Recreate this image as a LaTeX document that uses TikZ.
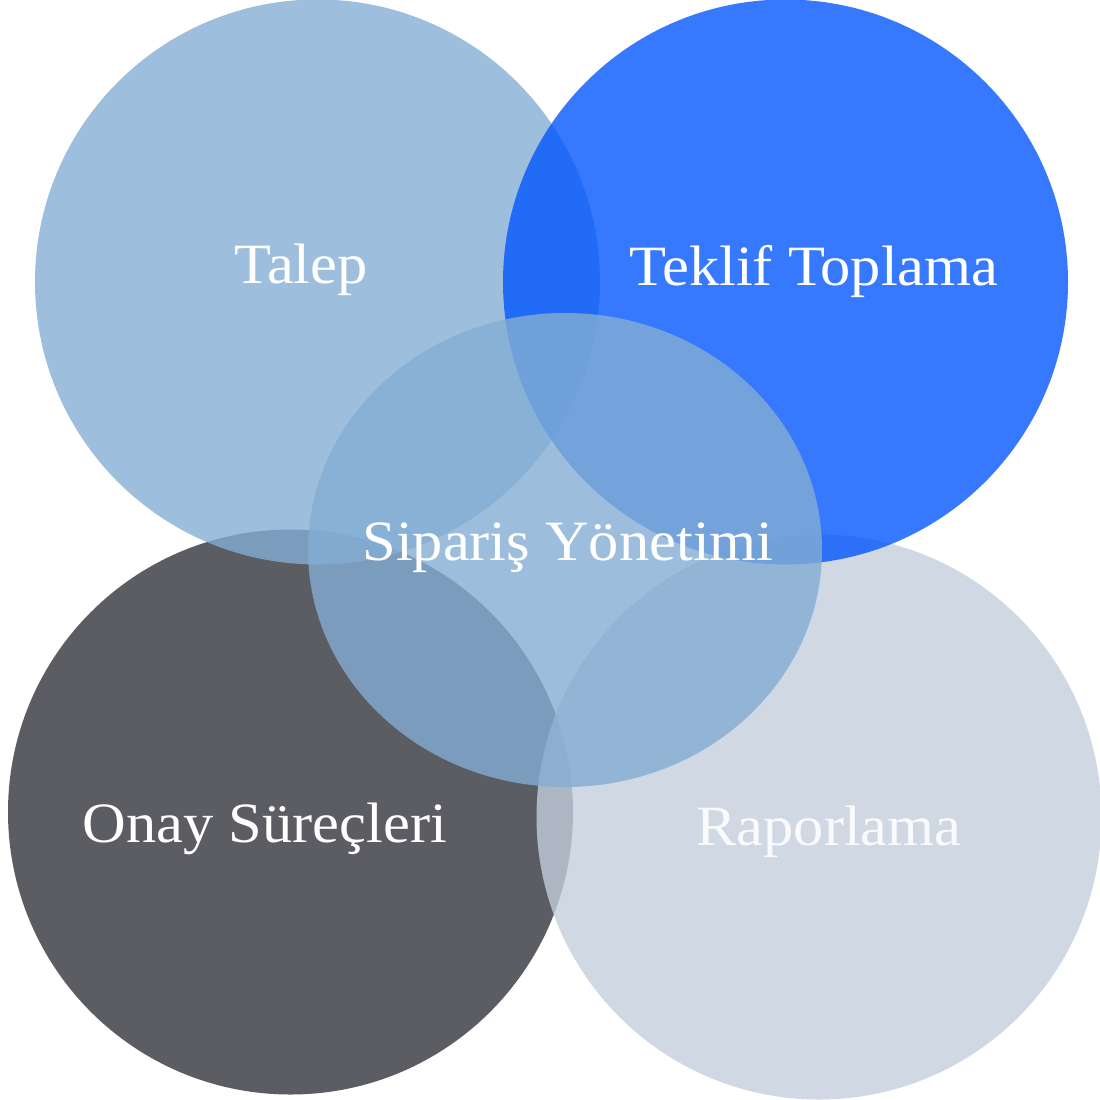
\documentclass[tikz,border=0pt]{standalone}
\usepackage{fontspec}
\setmainfont{Liberation Serif}[FakeStretch=1.06]
\usetikzlibrary{shapes.geometric}
\definecolor{talepc}{RGB}{132,174,212}
\definecolor{teklifc}{RGB}{4,87,254}
\definecolor{onayc}{RGB}{51,51,60}
\definecolor{raporc}{RGB}{195,206,220}
\definecolor{sipc}{RGB}{132,173,211}
\tikzset{
  bubble/.style={circle, inner sep=0pt, minimum size=565pt, fill opacity=0.8, draw=none},
  label/.style={text=white, anchor=base, inner sep=0pt, font=\fontsize{57}{60}\selectfont}
}
\begin{document}
\begin{tikzpicture}[x=1pt,y=-1pt]
\useasboundingbox (0,0) rectangle (1100,1100);
\node[bubble, fill=onayc] (onay) at (290.5,812) {};
\node[bubble, fill=raporc] (rapor) at (819,817) {};
\node[bubble, fill=talepc] (talep) at (317.5,282) {};
\node[bubble, fill=teklifc] (teklif) at (785.5,282) {};
\node[ellipse, inner sep=0pt, minimum width=514pt, minimum height=474pt, fill=sipc, fill opacity=0.8] (siparis) at (565,550) {};
\node[label] (tTalep) at (301,283) {Talep};
\node[label] (tTeklif) at (814,285) {Teklif Toplama};
\node[label] (tSiparis) at (568,560) {Sipariş Yönetimi};
\node[label] (tOnay) at (265,842) {Onay Süreçleri};
\node[label, text=white!90!raporc] (tRapor) at (829,845) {Raporlama};
\end{tikzpicture}
\end{document}
